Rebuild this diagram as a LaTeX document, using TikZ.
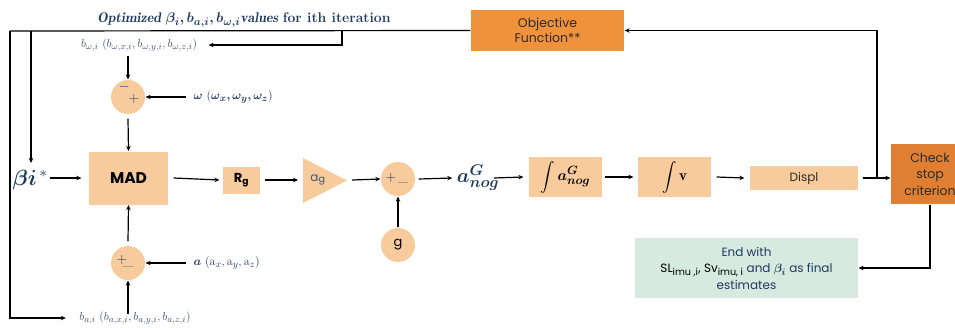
\RequirePackage{fix-cm}
\documentclass[tikz,border=0pt]{standalone}
\usepackage{amsmath,bm}
\usepackage{fontspec}
\newfontfamily\pop{Poppins}
\usetikzlibrary{arrows.meta,shapes.geometric}
\DeclareMathSizes{11.5}{11.5}{9.2}{7.5}
\DeclareMathSizes{12}{12}{9.6}{7.8}
\DeclareMathSizes{14}{14}{11}{9}
\DeclareMathSizes{15}{15}{12}{10}
\DeclareMathSizes{20}{20}{15.5}{12}
\definecolor{lor}{HTML}{F8CB9D}
\definecolor{obj}{HTML}{F0923B}
\definecolor{chk}{HTML}{E07E31}
\definecolor{grn}{HTML}{D6EADF}
\definecolor{navy}{HTML}{1F3A5F}
\definecolor{slate}{HTML}{3F5370}
\definecolor{dtxt}{HTML}{2B2B2B}
\begin{document}
\begin{tikzpicture}[x=1pt,y=-1pt,
  >={Stealth[length=5pt,width=4.5pt]},
  line width=1.2pt,
  box/.style={fill=lor, inner sep=0pt, text=black},
  sumc/.style={circle, fill=lor, minimum size=34pt, inner sep=0pt},
  lbl/.style={inner sep=1pt, text=navy},
  arr/.style={->}]
\useasboundingbox (0,0) rectangle (955,327);

% boxes
\node[fill=obj, minimum width=153pt, minimum height=41pt, inner sep=0pt, align=center,
      font=\pop\fontsize{12.5}{15}\selectfont, text=dtxt] (obj) at (547.5,30.5) {Objective\\Function**};
\node[fill=chk, minimum width=78pt, minimum height=60pt, inner sep=0pt, align=center,
      font=\pop\fontsize{12.5}{16.5}\selectfont, text=dtxt] (chk) at (930,174) {Check\\stop\\criterion};
\node[box, minimum width=79pt, minimum height=53pt, font=\pop\bfseries\fontsize{15.5}{17}\selectfont] (mad) at (128.5,178) {MAD};
\node[box, minimum width=37pt, minimum height=27pt, font=\pop\bfseries\fontsize{13}{15}\selectfont] (rg) at (241.5,180) {R\textsubscript{g}};
\fill[lor] (303,158) -- (347,180.5) -- (303,203) -- cycle;
\coordinate (agL) at (303,180);
\coordinate (agR) at (347,180);
\node[text=slate, font=\pop\fontsize{12}{14}\selectfont, inner sep=0pt] (ag) at (318,180) {a\textsubscript{g}};
\node[sumc] (s2) at (398,179) {};
\node[font=\fontsize{14}{16}\selectfont, text=navy] at (391,178) {$+$};
\node[font=\fontsize{14}{16}\selectfont, text=navy] at (403,182) {$\_$};
\node[sumc, font=\pop\fontsize{13}{15}\selectfont] (g) at (398,245) {g};
\node[lbl, font=\fontsize{20}{22}\selectfont, inner sep=0pt] (anog) at (478,178) {$\bm{a^{G}_{nog}}$};
\coordinate (anogE) at (494,178);
\node[box, minimum width=73pt, minimum height=40pt, font=\fontsize{15}{17}\selectfont] (int1) at (565.5,177) {$\displaystyle\int \bm{a^{G}_{nog}}$};
\node[box, minimum width=73pt, minimum height=40pt, font=\fontsize{15}{17}\selectfont] (int2) at (674.5,177) {$\displaystyle\int \mathbf{v}$};
\node[box, minimum width=108pt, minimum height=24pt, font=\pop\fontsize{12}{14}\selectfont, text=dtxt] (displ) at (804,178) {Displ};
\node[fill=grn, minimum width=223pt, minimum height=60pt, inner sep=0pt, align=center,
      font=\pop\fontsize{12}{16.5}\selectfont, text=navy] (end) at (746.5,268)
      {End with\\{\color{black}SL\textsubscript{imu ,i},} {\color{black}Sv\textsubscript{imu, i}} and $\bm{\beta_i}$ as final\\estimates};

% sum circles
\node[sumc] (s1) at (128,97) {};
\node[font=\fontsize{14}{16}\selectfont, text=navy] at (124,87) {$-$};
\node[font=\fontsize{14}{16}\selectfont, text=navy] at (134,99) {$+$};
\node[sumc] (s3) at (128,263) {};
\node[font=\fontsize{14}{16}\selectfont, text=navy] at (122,260) {$+$};
\node[font=\fontsize{14}{16}\selectfont, text=navy] at (128,266) {$\_$};

% labels
\node[lbl, font=\fontsize{14}{16}\selectfont] (opt) at (244,20)
  {$\bm{\mathit{Optimized}\ \beta_i, b_{a,i}, b_{\omega,i}\mathit{values}}$ \textbf{for ith iteration}};
\node[lbl, text=slate, font=\fontsize{11.5}{13}\selectfont] (bw) at (139,45)
  {$b_{\omega,i}\ (b_{\omega,x,i}, b_{\omega,y,i}, b_{\omega,z,i})$};
\node[lbl, font=\fontsize{12}{14}\selectfont, anchor=west] (om) at (192,97)
  {$\bm{\omega}\ (\bm{\omega_{x}, \omega_{y}, \omega_{z}})$};
\node[lbl, font=\fontsize{12}{14}\selectfont, anchor=west] (al) at (192,263)
  {$\bm{a}\ (\mathrm{a}_x, \mathrm{a}_y, \mathrm{a}_z)$};
\node[lbl, text=slate, font=\fontsize{11.5}{13}\selectfont] (bal) at (135,318)
  {$b_{a,i}\ (b_{a,x,i}, b_{a,y,i}, b_{a,z,i})$};
\node[lbl, font=\fontsize{22}{24}\selectfont] (beta) at (30,180) {$\bm{\beta i}^{\,*}$};

% feedback lines
\coordinate (t1) at (10,31);
\coordinate (t2) at (31,31);
\coordinate (t3) at (342,31);
\draw (obj.west) -- (t1);
\draw[->, shorten >=12pt] (t1) |- (bal.west);
\draw[->] (t2) -- (31,163);
\draw[->] (t3) |- ([xshift=10pt]bw.east);
\coordinate (jn) at (877,178);
\draw[->] (jn) |- (obj.east);

% signal flow
\draw[->] ([yshift=-3pt]bw.south -| s1) -- (s1.north);
\draw[->] (om.west) ++(-6,0) -- (s1.east);
\draw[->] (s1.south) ++(0,4) -- (mad.north);
\draw[->] (beta.east) ++(1,-2) -- ([xshift=-7pt]mad.west);
\draw[->] ([xshift=5pt]mad.east) -- ([xshift=-3pt]rg.west);
\draw[->] ([xshift=4pt]rg.east) -- ([xshift=-5pt]agL);
\draw[->] ([xshift=5pt]agR) -- (s2.west);
\draw[->] (g.north) -- (s2.south);
\draw[->] ([xshift=3pt]s2.east) -- ([xshift=-4pt]anog.west);
\draw[->] (anogE) -- ([xshift=-5pt]int1.west);
\draw[->] ([xshift=2pt]int1.east) -- ([xshift=-4pt]int2.west);
\draw[->] ([xshift=5pt]int2.east) -- ([xshift=-5pt]displ.west);
\draw[->] ([xshift=4pt]displ.east) -- (displ.east -| chk.west);
\draw[->] (al.west) ++(-6,0) -- (s3.east);
\draw[->] (s3.north) ++(0,-4) -- (mad.south);
\draw[->] ([yshift=-4pt]bal.north -| s3) -- (s3.south);
\draw[->] (chk.south) |- (end.east);
\end{tikzpicture}
\end{document}
